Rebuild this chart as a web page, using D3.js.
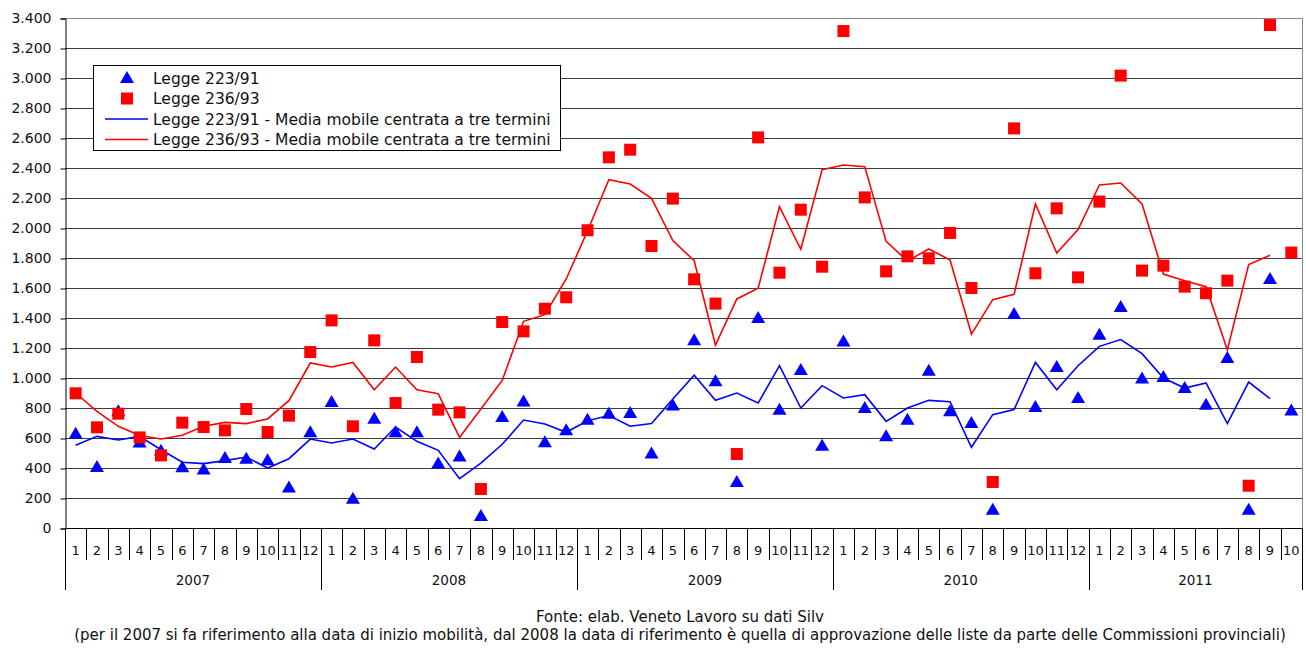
<!doctype html>
<html>
  <head>
    <meta charset="utf-8">
    <title>Legge 223/91 e 236/93</title>
    <script src="https://cdnjs.cloudflare.com/ajax/libs/d3/7.8.5/d3.min.js"></script>
    <style>
      body { margin: 0; background: #fff; }
      text { font-family: "DejaVu Sans", Verdana, sans-serif; fill: #111; }
    </style>
  </head>
  <body>
    <div id="chart"></div>
    <script>
      // years and months on the category axis
      const years = [2007, 2008, 2009, 2010, 2011]
      const monthsPerYear = [12, 12, 12, 12, 10]
      const months = years.flatMap((yr, k) => d3.range(1, monthsPerYear[k] + 1).map(m => ({year: yr, month: m})))

      // monthly values
      const legge22391 = [
        629, 407, 778, 570, 515, 405, 390, 467, 462, 451, 270, 638,
        840, 195, 729, 638, 638, 430, 476, 80, 740, 844, 571, 651,
        722, 762, 767, 497, 816, 1251, 978, 307, 1400, 789, 1054, 549,
        1244, 800, 611, 722, 1049, 778, 700, 122, 1427, 807, 1073, 867,
        1289, 1473, 996, 1007, 933, 822, 1133, 122, 1660, 784]
      const legge23693 = [
        898, 671, 762, 604, 484, 702, 673, 651, 793, 640, 749, 1173,
        1384, 678, 1251, 833, 1140, 789, 771, 260, 1373, 1311, 1462, 1538,
        1985, 2471, 2522, 1880, 2196, 1658, 1496, 493, 2604, 1702, 2122, 1742,
        3313, 2204, 1711, 1811, 1798, 1967, 1600, 307, 2664, 1698, 2131, 1671,
        2176, 3016, 1716, 1749, 1609, 1565, 1649, 282, 3353, 1836]
      // moving averages (centrata a tre termini), stop at 2011 month 9
      const media22391 = [
        551, 611, 587, 611, 522, 438, 429, 449, 473, 400, 462, 593,
        567, 593, 527, 673, 578, 518, 329, 433, 558, 720, 693, 638,
        715, 750, 678, 696, 860, 1018, 851, 900, 833, 1082, 800, 949,
        867, 889, 711, 800, 851, 842, 538, 756, 789, 1104, 922, 1082,
        1211, 1256, 1162, 1000, 933, 967, 696, 973, 862]
      const media23693 = [
        900, 778, 678, 616, 593, 618, 678, 704, 696, 727, 849, 1100,
        1073, 1104, 922, 1073, 922, 896, 604, 793, 984, 1378, 1422, 1660,
        1980, 2322, 2293, 2198, 1916, 1782, 1220, 1527, 1598, 2142, 1858, 2389,
        2420, 2409, 1911, 1780, 1860, 1787, 1293, 1522, 1558, 2160, 1833, 1989,
        2287, 2300, 2160, 1693, 1649, 1609, 1187, 1756, 1818]
      const yTicks = d3.range(0, 3401, 200)
      const legendLabels = [
        'Legge 223/91',
        'Legge 236/93',
        'Legge 223/91 - Media mobile centrata a tre termini',
        'Legge 236/93 - Media mobile centrata a tre termini']

      const W = 1306, H = 648
      const plotL = 65, plotR = 1302, plotT = 18, plotB = 528

      const svg = d3.select('#chart').append('svg')
        .attr('width', W).attr('height', H)

      const x = d3.scaleBand().domain(d3.range(months.length)).range([plotL, plotR])
      const y = d3.scaleLinear().domain([0, 3400]).range([plotB, plotT])
      const bw = x.bandwidth()
      const cx = i => x(i) + bw / 2

      const itFormat = d3.formatLocale({decimal: ',', thousands: '.', grouping: [3], currency: ['€', '']}).format(',d')

      // horizontal grid
      svg.append('g').selectAll('line')
        .data(yTicks.filter(d => d > 0))
        .join('line')
        .attr('x1', plotL).attr('x2', plotR)
        .attr('y1', d => Math.round(y(d)) + 0.5).attr('y2', d => Math.round(y(d)) + 0.5)
        .attr('stroke', d => d == 3400 ? '#888' : '#3c3c3c')
        .attr('stroke-width', 1)

      // right border of plot
      svg.append('line')
        .attr('x1', plotR + 0.5).attr('x2', plotR + 0.5)
        .attr('y1', plotT).attr('y2', plotB)
        .attr('stroke', '#888')

      // y axis
      const yAxis = svg.append('g')
        .attr('transform', `translate(${plotL + 0.5},0.5)`)
        .call(d3.axisLeft(y).tickValues(yTicks).tickFormat(itFormat).tickSize(5).tickPadding(9))
      yAxis.select('.domain').attr('stroke', '#000')
      yAxis.selectAll('.tick line').attr('stroke', '#000')
      yAxis.selectAll('text').style('font-size', '14px').attr('fill', '#111')
        .style('font-family', '"DejaVu Sans", Verdana, sans-serif')

      // category axis
      const xAxis = svg.append('g')
      xAxis.append('line')
        .attr('x1', plotL).attr('x2', plotR + 1)
        .attr('y1', plotB + 0.5).attr('y2', plotB + 0.5)
        .attr('stroke', '#000')
      xAxis.selectAll('line.sep')
        .data(d3.range(months.length + 1))
        .join('line')
        .attr('class', 'sep')
        .attr('x1', i => Math.round(i < months.length ? x(i) : plotR) + 0.5)
        .attr('x2', i => Math.round(i < months.length ? x(i) : plotR) + 0.5)
        .attr('y1', plotB)
        .attr('y2', i => (i == months.length || months[i].month == 1) ? 590 : 560)
        .attr('stroke', '#000')
      xAxis.selectAll('text.month')
        .data(months)
        .join('text')
        .attr('class', 'month')
        .attr('x', (d, i) => cx(i))
        .attr('y', 555)
        .attr('text-anchor', 'middle')
        .style('font-size', '13px')
        .text(d => d.month)
      xAxis.selectAll('text.year')
        .data(years)
        .join('text')
        .attr('class', 'year')
        .attr('x', (yr) => {
          const idx = months.map((d, i) => i).filter(i => months[i].year == yr)
          return (x(idx[0]) + x(idx[idx.length - 1]) + bw) / 2
        })
        .attr('y', 585)
        .attr('text-anchor', 'middle')
        .style('font-size', '13.5px')
        .text(d => d)

      // moving average lines
      const line = d3.line().x((d, i) => cx(i)).y(d => y(d))
      svg.append('path').datum(media22391)
        .attr('d', line).attr('fill', 'none')
        .attr('stroke', '#0000ff').attr('stroke-width', 1.6)
      svg.append('path').datum(media23693)
        .attr('d', line).attr('fill', 'none')
        .attr('stroke', '#ff0000').attr('stroke-width', 1.6)

      // markers
      const tri = 'M0,-7L7,5L-7,5Z'
      svg.append('g').selectAll('path')
        .data(legge22391)
        .join('path')
        .attr('d', tri)
        .attr('transform', (d, i) => `translate(${cx(i)},${y(d)})`)
        .attr('fill', '#0000ff')
      svg.append('g').selectAll('rect')
        .data(legge23693)
        .join('rect')
        .attr('x', (d, i) => cx(i) - 6)
        .attr('y', d => y(d) - 6)
        .attr('width', 12).attr('height', 12)
        .attr('fill', '#ff0000')

      // legend
      const lg = svg.append('g')
      lg.append('rect')
        .attr('x', 93.5).attr('y', 65.5)
        .attr('width', 467).attr('height', 85)
        .attr('fill', '#fff').attr('stroke', '#000')
      const rowY = i => 78 + i * 20.5
      lg.append('path').attr('d', tri)
        .attr('transform', `translate(127,${rowY(0)})`).attr('fill', '#0000ff')
      lg.append('rect')
        .attr('x', 121).attr('y', rowY(1) - 6).attr('width', 12).attr('height', 12)
        .attr('fill', '#ff0000')
      lg.append('line').attr('x1', 105).attr('x2', 148)
        .attr('y1', rowY(2)).attr('y2', rowY(2))
        .attr('stroke', '#0000ff').attr('stroke-width', 1.6)
      lg.append('line').attr('x1', 105).attr('x2', 148)
        .attr('y1', rowY(3)).attr('y2', rowY(3))
        .attr('stroke', '#ff0000').attr('stroke-width', 1.6)
      lg.selectAll('text')
        .data(legendLabels)
        .join('text')
        .attr('x', 153)
        .attr('y', (d, i) => rowY(i) + 5.5)
        .style('font-size', '15.5px')
        .text(d => d)

      // source notes
      svg.append('text')
        .attr('x', 680).attr('y', 622)
        .attr('text-anchor', 'middle')
        .style('font-size', '15px')
        .text('Fonte: elab. Veneto Lavoro su dati Silv')
      svg.append('text')
        .attr('x', 680).attr('y', 640)
        .attr('text-anchor', 'middle')
        .style('font-size', '15px')
        .text('(per il 2007 si fa riferimento alla data di inizio mobilità, dal 2008 la data di riferimento è quella di approvazione delle liste da parte delle Commissioni provinciali)')
    </script>
  </body>
</html>
